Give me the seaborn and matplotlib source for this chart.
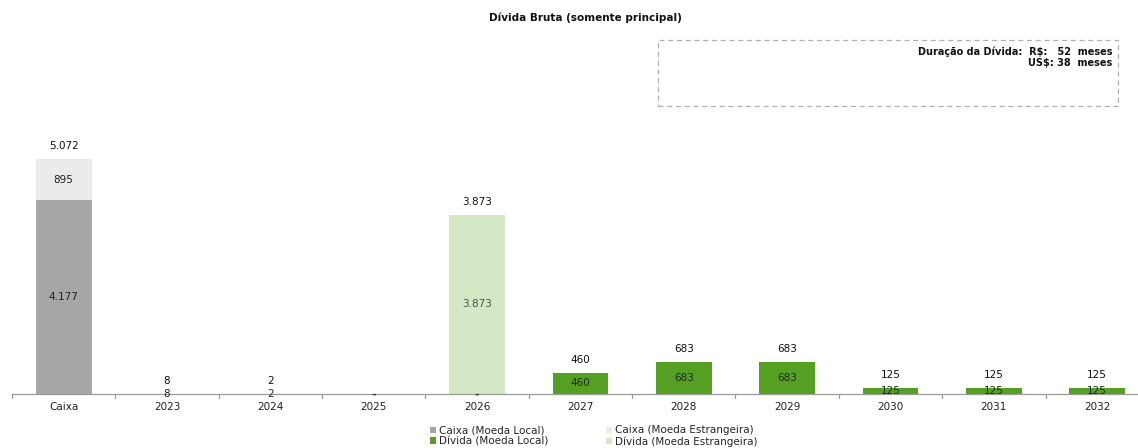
import numpy as np
import pandas as pd
import matplotlib
matplotlib.use('Agg')
import matplotlib.pyplot as plt
import seaborn as sns
from matplotlib.patches import Patch, Rectangle

# Data
categories = ['Caixa', '2023', '2024', '2025', '2026', '2027', '2028', '2029', '2030', '2031', '2032']
caixa_local = [4177, 0, 0, 0, 0, 0, 0, 0, 0, 0, 0]
caixa_estr = [895, 0, 0, 0, 0, 0, 0, 0, 0, 0, 0]
divida_local = [0, 8, 2, 0, 0, 460, 683, 683, 125, 125, 125]
divida_estr = [0, 0, 0, 0, 3873, 0, 0, 0, 0, 0, 0]

series_names = ['Caixa (Moeda Local)', 'Caixa (Moeda Estrangeira)',
                'Dívida (Moeda Local)', 'Dívida (Moeda Estrangeira)']
colors = ['#a6a6a6', '#ebebeb', '#55a022', '#d5e8c6']


def fmt(v):
    return f"{v:,.0f}".replace(',', '.')


df = pd.DataFrame({
    'cat': categories,
    'cl': caixa_local,
    'ce': caixa_estr,
    'dl': divida_local,
    'de': divida_estr,
})
df['c1'] = df['cl']
df['c2'] = df['c1'] + df['ce']
df['c3'] = df['c2'] + df['dl']
df['c4'] = df['c3'] + df['de']

sns.set_style('white')
plt.rcParams['font.family'] = ['DejaVu Sans']

fig = plt.figure(figsize=(11.38, 4.48), dpi=100)
ax = fig.add_axes([0.0105, 1 - 394 / 448, 0.99, 284 / 448])

# Stacked bars: draw cumulative totals from top layer down
for col, color in zip(['c4', 'c3', 'c2', 'c1'], colors[::-1]):
    sns.barplot(data=df, x='cat', y=col, order=categories, color=color,
                saturation=1, width=0.54, linewidth=0, ax=ax)

ax.set_ylim(0, 6130)
ax.set_xlim(-0.5, 10.4)
ax.set_xlabel('')
ax.set_ylabel('')
ax.set_yticks([])
for s in ['top', 'right', 'left']:
    ax.spines[s].set_visible(False)
ax.spines['bottom'].set_color('#9a9a9a')
ax.spines['bottom'].set_linewidth(0.9)

# ticks between categories
ax.set_xticks(range(len(categories)))
ax.set_xticklabels(categories, fontsize=7.5, color='#222222')
ax.tick_params(axis='x', length=0, pad=6)
for xb in np.arange(0.5, len(categories) - 0.5, 1.0):
    ax.plot([xb, xb], [0, -90], color='#9a9a9a', lw=0.9, clip_on=False)
ax.plot([-0.5, -0.5], [0, -90], color='#9a9a9a', lw=0.9, clip_on=False)

# labels inside segments
for i in range(len(categories)):
    bottom = 0
    vals = [caixa_local[i], caixa_estr[i], divida_local[i], divida_estr[i]]
    for j, v in enumerate(vals):
        if v > 0:
            tc = '#222222'
            if j == 3:
                tc = '#4a5a44'
            elif j == 2:
                tc = '#1f2a18'
            ax.text(i, bottom + v / 2, fmt(v), ha='center', va='center',
                    fontsize=7.5, color=tc)
        bottom += v
    total = sum(vals)
    if i > 0 and divida_local[i] == 0:
        ax.text(i, -20, '-', ha='center', va='center', fontsize=8, color='#333333',
                fontweight='bold')
    if total > 0:
        ax.text(i, total + 280, fmt(total), ha='center', va='center',
                fontsize=7.5, color='#111111')

# title
fig.text(585 / 1138, 1 - 18 / 448, 'Dívida Bruta (somente principal)', ha='center', va='center',
         fontsize=7.5, fontweight='bold', color='#111111')

# dashed box with duration
box = Rectangle((658 / 1138, 1 - 106 / 448), 460 / 1138, 66 / 448, transform=fig.transFigure,
                fill=False, edgecolor='#b0b0b0', linestyle=(0, (4, 3)), linewidth=0.9)
fig.patches.append(box)
fig.text(1112 / 1138, 1 - 52 / 448, 'Duração da Dívida:  R$:   52  meses', ha='right', va='center',
         fontsize=7, fontweight='bold', color='#111111')
fig.text(1112 / 1138, 1 - 63 / 448, 'US$: 38  meses', ha='right', va='center',
         fontsize=7, fontweight='bold', color='#111111')

# legend
order = [0, 2, 1, 3]
handles = [Patch(facecolor=colors[k], edgecolor='none', label=series_names[k]) for k in order]
fig.legend(handles=handles, loc='center', bbox_to_anchor=(0.522, 1 - 436 / 448), ncol=2,
           frameon=False, fontsize=7.5, handlelength=0.6, handleheight=0.6,
           handletextpad=0.3, columnspacing=5.5, labelspacing=0.05, borderpad=0)

fig.savefig('out.png', dpi=100)
